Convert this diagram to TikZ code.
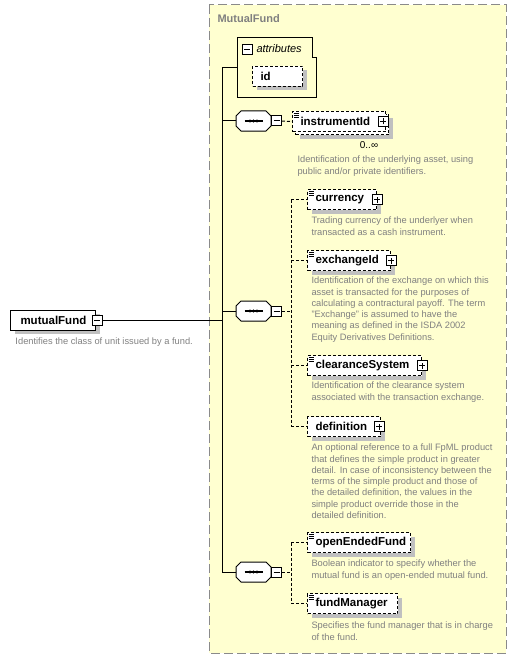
\documentclass[tikz,border=0pt]{standalone}
\usepackage{fontspec}
\setmainfont{Liberation Sans}
\usetikzlibrary{shadows,positioning}
\definecolor{xsdyellow}{RGB}{255,255,208}
\definecolor{xsdframe}{RGB}{138,138,138}
\definecolor{xsdtext}{RGB}{128,128,128}
\definecolor{xsdshadow}{RGB}{192,192,192}

\begin{document}
\begin{tikzpicture}[x=1pt,y=-1pt,line width=1pt,
  box/.style={draw,fill=white,anchor=north west,minimum height=20,inner xsep=8,inner ysep=0,
    align=left,font=\fontsize{11.5}{13}\bfseries\selectfont},
  elem/.style={box,general shadow={fill=xsdshadow,shadow xshift=4pt,shadow yshift=-4pt}},
  opt/.style={elem,dash pattern=on 3pt off 2pt},
  multi/.style={box,dash pattern=on 3pt off 2pt,
    general shadow={fill=xsdshadow,shadow xshift=7pt,shadow yshift=-7pt},
    general shadow={fill=white,draw=black,dash pattern=on 3pt off 2pt,shadow xshift=3pt,shadow yshift=-3pt}},
  docmark/.style={path picture={\foreach \d in {1.5,3.5,5.5}
    \draw[solid,line width=0.8pt] ([xshift=1pt,yshift=-\d pt]path picture bounding box.north west) -- ++(5,0);}},
  pmbox/.style={draw,solid,fill=white,minimum size=10,inner sep=0},
  minus/.style={pmbox,path picture={\draw[solid] ([xshift=2pt]path picture bounding box.west) -- ([xshift=-2pt]path picture bounding box.east);}},
  plus/.style={pmbox,path picture={\draw[solid] ([xshift=2pt]path picture bounding box.west) -- ([xshift=-2pt]path picture bounding box.east);
    \draw[solid] ([yshift=2pt]path picture bounding box.south) -- ([yshift=-2pt]path picture bounding box.north);}},
  seq/.style={minimum width=34,minimum height=19,inner sep=0},
  link/.style={dash pattern=on 3pt off 2pt},
  desc/.style={anchor=north west,align=left,inner sep=0,text=xsdtext,font=\fontsize{9.3}{11.3}\selectfont}]
  \useasboundingbox (0,0) rectangle (516,658);
  \draw[xsdframe,fill=xsdyellow,dash pattern=on 9pt off 4pt] (209,5) rectangle (506,653);
  \node[anchor=west,inner sep=0,text=xsdtext,font=\fontsize{11}{13}\bfseries\selectfont] (mfT) at (217,19) {MutualFund};

  \node[elem,inner xsep=10,text width=65] (mf) at (10,309.5) {mutualFund};
  \node[minus] (mfM) at ([xshift=1pt]mf.east) {};
  \node[desc] (mfD) at (15,337) {Identifies the class of unit issued by a fund.};

  \node[anchor=north west,minimum width=78,minimum height=59,inner sep=0] (attr) at (237,38) {};
  \draw (attr.north west) -- ([xshift=-4pt]attr.north east) |- ([yshift=-20pt]attr.north east)
    -- (attr.south east) -- (attr.south west) -- cycle;
  \node[minus] (attrM) at (247,49.5) {};
  \node[anchor=west,inner sep=0,font=\fontsize{11}{13}\itshape\selectfont] (attrT) at (256,49) {attributes};
  \node[opt,text width=34] (id) at (252,66) {id};

  \node[seq] (s1) at (253.5,121) {};
  \node[seq] (s2) at (253.5,311) {};
  \node[seq] (s3) at (253.5,572) {};
  \foreach \s in {s1,s2,s3}{
    \fill[xsdshadow,shift={(4,4)}] ([xshift=5pt]\s.north west) -- ([xshift=-5pt]\s.north east) -- ([yshift=-5pt]\s.north east)
      -- ([yshift=5pt]\s.south east) -- ([xshift=-5pt]\s.south east) -- ([xshift=5pt]\s.south west)
      -- ([yshift=5pt]\s.south west) -- ([yshift=-5pt]\s.north west) -- cycle;
    \draw[fill=white] ([xshift=5pt]\s.north west) -- ([xshift=-5pt]\s.north east) -- ([yshift=-5pt]\s.north east)
      -- ([yshift=5pt]\s.south east) -- ([xshift=-5pt]\s.south east) -- ([xshift=5pt]\s.south west)
      -- ([yshift=5pt]\s.south west) -- ([yshift=-5pt]\s.north west) -- cycle;
    \draw[line width=1.2pt] ([xshift=-9pt]\s.center) -- ([xshift=9pt]\s.center);
    \foreach \d in {-3.5,0,3.5}
      \fill ([xshift=\d pt]\s.center) circle (1.6);
  }

  \node[minus,anchor=west] (s1M) at (s1.east) {};
  \node[multi,docmark,text width=77] (iid) at (292,111) {instrumentId};
  \node[plus] (iidP) at ([xshift=-3pt]iid.east) {};
  \node[font=\fontsize{10}{12}\selectfont,inner sep=0] (iidN) at (369,145) {0..∞};
  \node[desc] (iidD) at (297,155.5) {Identification of the underlying asset, using\\public and/or private identifiers.};

  \node[minus,anchor=west] (s2M) at (s2.east) {};
  \node[opt,docmark,text width=53] (cur) at (307,189) {currency};
  \node[plus] (curP) at (cur.east) {};
  \node[desc] (curD) at (311,216.5) {Trading currency of the underlyer when\\transacted as a cash instrument.};
  \node[opt,docmark,text width=67] (exch) at (307,250) {exchangeId};
  \node[plus] (exchP) at (exch.east) {};
  \node[desc] (exchD) at (311,276.5) {Identification of the exchange on which this\\asset is transacted for the purposes of\\calculating a contractural payoff. The term\\"Exchange" is assumed to have the\\meaning as defined in the ISDA 2002\\Equity Derivatives Definitions.};
  \node[opt,docmark,text width=98] (clr) at (307,355) {clearanceSystem};
  \node[plus] (clrP) at (clr.east) {};
  \node[desc] (clrD) at (311,381.5) {Identification of the clearance system\\associated with the transaction exchange.};
  \node[opt,text width=57] (def) at (307,416) {definition};
  \node[plus] (defP) at ([xshift=-2pt]def.east) {};
  \node[desc] (defD) at (311,443.5) {An optional reference to a full FpML product\\that defines the simple product in greater\\detail. In case of inconsistency between the\\terms of the simple product and those of\\the detailed definition, the values in the\\simple product override those in the\\detailed definition.};

  \node[minus,anchor=west] (s3M) at (s3.east) {};
  \node[opt,docmark,text width=87] (oef) at (307,532) {openEndedFund};
  \node[desc] (oefD) at (311,559.5) {Boolean indicator to specify whether the\\mutual fund is an open-ended mutual fund.};
  \node[opt,docmark,text width=74] (fm) at (307,593) {fundManager};
  \node[desc] (fmD) at (311,621.5) {Specifies the fund manager that is in charge\\of the fund.};

  \coordinate (trT) at (222,68);
  \draw (trT) -- (s3.west -| trT);
  \draw (trT) -- (trT -| attr.west);
  \draw (mfM.east) -- (mfM.east -| trT);
  \foreach \s in {s1,s2,s3}
    \draw (\s.west -| trT) -- (\s.west);

  \draw[link] (s1M.east) -- (iid.west);
  \coordinate (bus2) at (291,311);
  \draw[link] (s2M.east) -- (bus2);
  \draw[link] (bus2 |- cur.west) -- (bus2 |- def.west);
  \foreach \n in {cur,exch,clr,def}
    \draw[link] (bus2 |- \n.west) -- (\n.west);
  \coordinate (bus3) at (291,572);
  \draw[link] (s3M.east) -- (bus3);
  \draw[link] (bus3 |- oef.west) -- (bus3 |- fm.west);
  \foreach \n in {oef,fm}
    \draw[link] (bus3 |- \n.west) -- (\n.west);
\end{tikzpicture}
\end{document}
